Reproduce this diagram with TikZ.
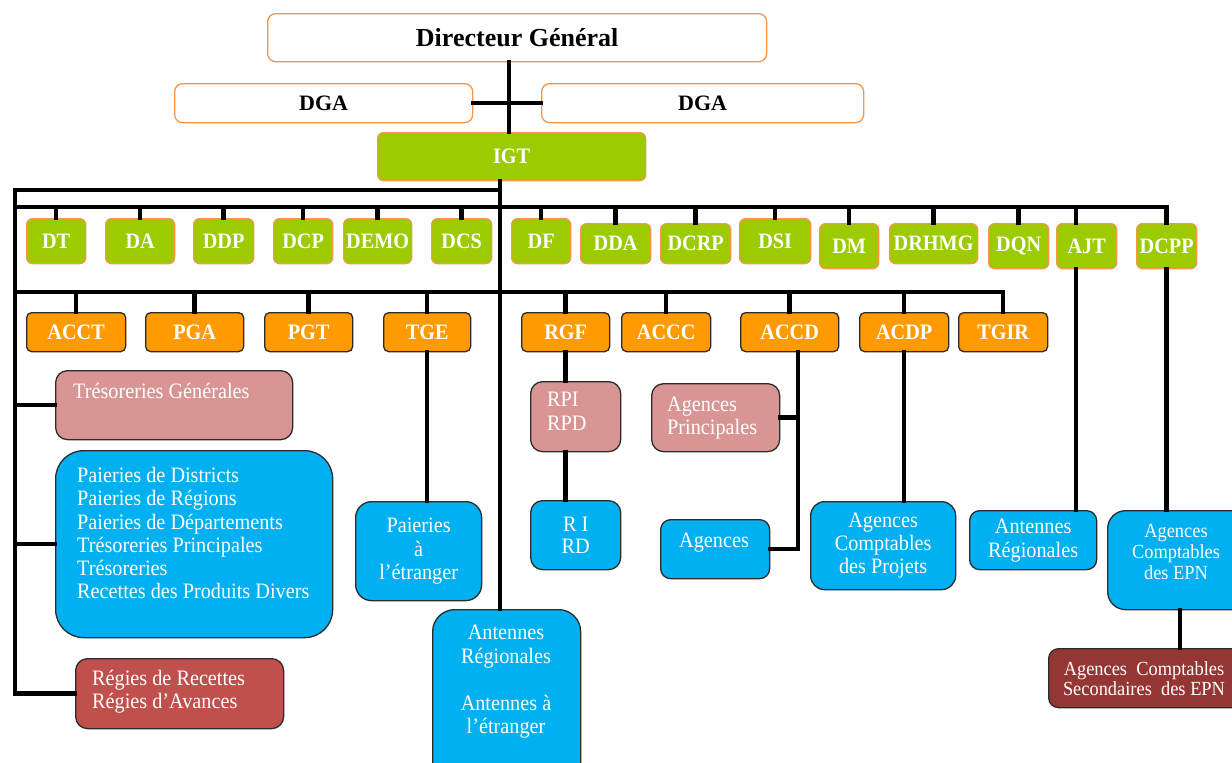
\documentclass[tikz,border=0pt]{standalone}
\usepackage{fontspec}
\setmainfont{Liberation Serif}[FakeStretch=0.92]
\newfontfamily\topfont{Liberation Serif}
\usetikzlibrary{calc}
\definecolor{grn}{HTML}{9BCB00}
\definecolor{orb}{HTML}{F79646}
\definecolor{orf}{HTML}{FF9A00}
\definecolor{blu}{HTML}{00B0F0}
\definecolor{pnk}{HTML}{D99594}
\definecolor{rdd}{HTML}{C0504D}
\definecolor{drd}{HTML}{943634}
\definecolor{dkb}{HTML}{2B2B2B}
\tikzset{
  base/.style={anchor=north west, inner sep=0pt, line width=1.3pt},
  wbox/.style={base, draw=orb, fill=white, rounded corners=8pt},
  gbox/.style={base, draw=orb, fill=grn, rounded corners=6pt, text=white, font=\fontsize{22}{24}\selectfont\bfseries},
  obox/.style={base, draw=dkb, fill=orf, rounded corners=5pt, text=white, font=\fontsize{22}{24}\selectfont\bfseries},
  cbox/.style={base, draw=dkb, fill=#1, text=white, align=center, font=\fontsize{22}{23.5}\selectfont},
  txt/.style={inner sep=0pt, text=white, font=\fontsize{22}{23.5}\selectfont},
  ln/.style={line width=4.4pt, line cap=rect},
}
\newcommand\mybox[7]{\node[#1, minimum width={(#4)-(#2)}, minimum height={(#5)-(#3)}] (#6) at (#2,#3) {#7};}
\begin{document}
\begin{tikzpicture}[x=1pt,y=-1pt]
\useasboundingbox (0,0) rectangle (1232,763);
\clip (0,0) rectangle (1232,763);
% top
\mybox{wbox}{267}{13}{766}{61}{dg}{\topfont\fontsize{26}{28}\selectfont\bfseries Directeur Général}
\mybox{wbox}{174}{83}{472}{122}{dgal}{\topfont\fontsize{22}{24}\selectfont\bfseries DGA}
\mybox{wbox}{541}{83}{863}{122}{dgar}{\topfont\fontsize{22}{24}\selectfont\bfseries DGA}
\mybox{gbox}{377}{132}{645}{180}{igt}{IGT}
% green row
\mybox{gbox}{26}{218}{85}{263}{dt}{DT}
\mybox{gbox}{105}{218}{174}{263}{da}{DA}
\mybox{gbox}{193}{218}{253}{263}{ddp}{DDP}
\mybox{gbox}{273}{218}{332}{263}{dcp}{DCP}
\mybox{gbox}{343}{218}{411}{263}{demo}{DEMO}
\mybox{gbox}{431}{218}{491}{263}{dcs}{DCS}
\mybox{gbox}{511}{218}{570}{263}{df}{DF}
\mybox{gbox}{580}{223}{650}{263}{dda}{DDA}
\mybox{gbox}{660}{223}{730}{263}{dcrp}{DCRP}
\mybox{gbox}{739}{218}{810}{263}{dsi}{DSI}
\mybox{gbox}{819}{223}{878}{268}{dm}{DM}
\mybox{gbox}{889}{223}{977}{263}{drhmg}{DRHMG}
\mybox{gbox}{988}{223}{1048}{268}{dqn}{DQN}
\mybox{gbox}{1056}{223}{1116}{268}{ajt}{AJT}
\mybox{gbox}{1136}{223}{1196}{268}{dcpp}{DCPP}
% orange row
\mybox{obox}{26}{312}{125}{351}{acct}{ACCT}
\mybox{obox}{145}{312}{243}{351}{pga}{PGA}
\mybox{obox}{264}{312}{352}{351}{pgt}{PGT}
\mybox{obox}{383}{312}{470}{351}{tge}{TGE}
\mybox{obox}{521}{312}{609}{351}{rgf}{RGF}
\mybox{obox}{621}{312}{710}{351}{accc}{ACCC}
\mybox{obox}{740}{312}{838}{351}{accd}{ACCD}
\mybox{obox}{859}{312}{948}{351}{acdp}{ACDP}
\mybox{obox}{958}{312}{1047}{351}{tgir}{TGIR}
% lower boxes
\mybox{cbox=pnk, rounded corners=12pt}{55}{370}{292}{439}{tg}{}
\mybox{cbox=blu, rounded corners=28pt}{55}{450}{332}{637}{bb}{}
\mybox{cbox=rdd, rounded corners=12pt}{75}{658}{283}{728}{reg}{}
\mybox{cbox=blu, rounded corners=16pt}{355}{501}{481}{600}{pae}{Paieries\\à\\l’étranger}
\mybox{cbox=blu, rounded corners=22pt}{432}{609}{580}{800}{ant}{}
\mybox{cbox=pnk, rounded corners=12pt}{530}{381}{620}{451}{rpi}{}
\mybox{cbox=blu, rounded corners=12pt, font=\fontsize{22}{21.5}\selectfont}{530}{500}{620}{569}{ri}{R I\\RD}
\mybox{cbox=pnk, rounded corners=12pt}{651}{383}{779}{451}{ap}{}
\mybox{cbox=blu, rounded corners=10pt}{660}{519}{769}{578}{ag}{}
\mybox{cbox=blu, rounded corners=14pt, font=\fontsize{22}{23}\selectfont}{810}{501}{955}{589}{acp}{Agences\\Comptables\\des Projets}
\mybox{cbox=blu, rounded corners=10pt, font=\fontsize{22}{24}\selectfont}{969}{510}{1096}{569}{antr}{Antennes\\Régionales}
\mybox{cbox=blu, rounded corners=18pt}{1107}{510}{1252}{609}{ace}{}
\mybox{cbox=drd, rounded corners=10pt}{1048}{648}{1252}{707}{sec}{}
% texts placed inside boxes
\node[txt, anchor=base west] (tgt) at (73,398) {Trésoreries Générales};
\node[txt, anchor=north west, align=left, font=\fontsize{22}{23.3}\selectfont] (bbt) at (77,467) {Paieries de Districts\\Paieries de Régions\\Paieries de Départements\\Trésoreries Principales\\Trésoreries\\Recettes des Produits Divers};
\node[txt, anchor=north west, align=left, font=\fontsize{22}{23}\selectfont] (regt) at (92,670) {Régies de Recettes\\Régies d’Avances};
\node[txt, anchor=north, align=center] (antt) at (506,625) {Antennes\\Régionales\\[23.5pt]Antennes à\\l’étranger};
\node[txt, anchor=north west, align=left, font=\fontsize{22}{24}\selectfont] (rpit) at (547,392) {RPI\\RPD};
\node[txt, anchor=north west, align=left, font=\fontsize{22}{23}\selectfont] (apt) at (667,397) {Agences\\Principales};
\node[txt, anchor=base west] (agt) at (679,547) {Agences};
\node[txt, anchor=north, align=center, font=\fontsize{20}{21}\selectfont] (acet) at (1176,524) {Agences\\Comptables\\des EPN};
\node[txt, anchor=north, align=center, font=\fontsize{20}{20.5}\selectfont] (sect) at (1144,661) {Agences\ \ Comptables\\Secondaires\ \ des EPN};
% helper coordinates
\coordinate (tx) at (509,0);
\coordinate (ix) at (500,0);
\coordinate (b1) at (15,190);
\coordinate (b2) at (15,207);
\coordinate (b3) at (15,292);
\coordinate (cx) at (798,0);
\coordinate (jx) at (1076,0);
% connectors
\draw[ln] (dg.south -| tx) -- (igt.north -| tx);
\draw[ln] (dgal.east) -- (dgar.west);
\draw[ln] (igt.south -| ix) -- (ant.north -| ix);
\draw[ln] (b1 -| ix) -- (b1) -- (b1 |- reg.west) -- (reg.west);
\draw[ln] (b1 |- tg.west) -- (tg.west);
\draw[ln] (b1 |- bb.west) -- (bb.west);
\draw[ln] (b2) -- (b2 -| dcpp.north) -- (dcpp.north);
\foreach \n in {dt,da,ddp,dcp,demo,dcs,df,dda,dcrp,dsi,dm,drhmg,dqn}
  \draw[ln] (b2 -| \n.north) -- (\n.north);
\draw[ln] (b2 -| jx) -- (ajt.north -| jx);
\draw[ln] (b3) -- (b3 -| tgir.north) -- (tgir.north);
\foreach \n in {acct,pga,pgt,tge,rgf,accc,accd,acdp}
  \draw[ln] (b3 -| \n.north) -- (\n.north);
\draw[ln] (tge.south) -- (tge.south |- pae.north);
\draw[ln] (rgf.south) -- (rgf.south |- rpi.north);
\draw[ln] (rgf.south |- rpi.south) -- (rgf.south |- ri.north);
\draw[ln] (accd.south -| cx) -- (ag.east -| cx) -- (ag.east);
\draw[ln] (ap.east) -- (ap.east -| cx);
\draw[ln] (acdp.south) -- (acdp.south |- acp.north);
\draw[ln] (ajt.south -| jx) -- (antr.north -| jx);
\draw[ln] (dcpp.south) -- (dcpp.south |- ace.north);
\draw[ln] (sec.north -| ace.south) -- (ace.south);
\end{tikzpicture}
\end{document}
